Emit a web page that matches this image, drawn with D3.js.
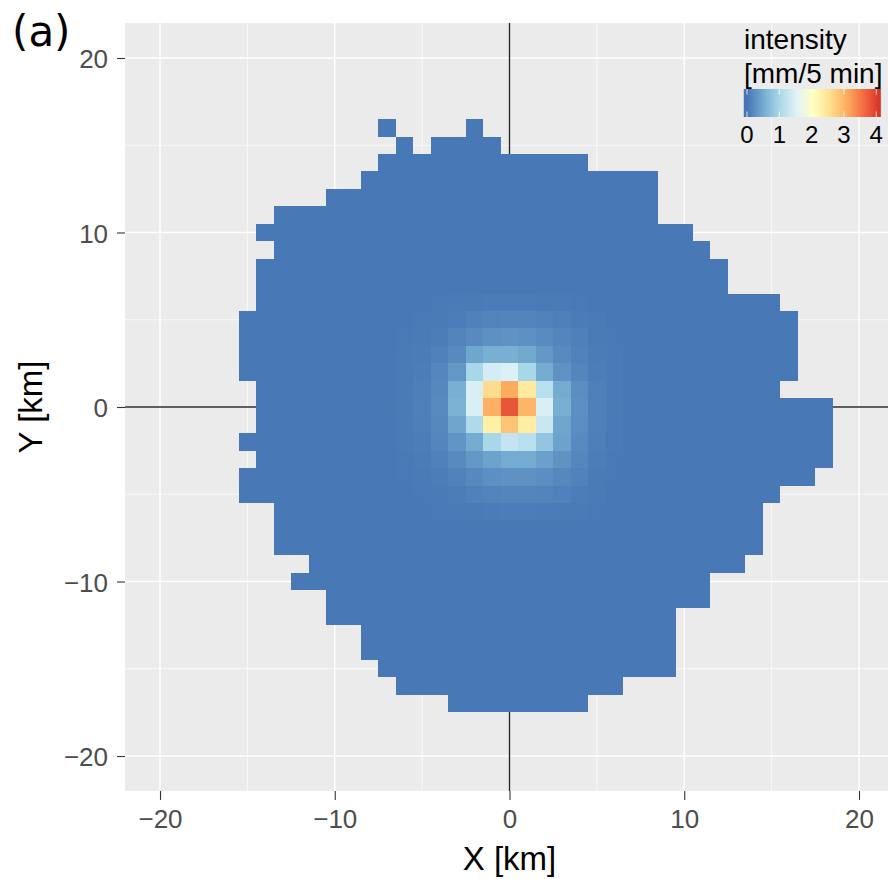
<!DOCTYPE html>
<html>
<head>
<meta charset="utf-8">
<script src="https://cdnjs.cloudflare.com/ajax/libs/d3/7.8.5/d3.min.js"></script>
<style>
    body { margin: 0; background: #fff; }
    text { font-family: "Liberation Sans", Arial, sans-serif; }
</style>
</head>
<body>
<svg id="grafico" width="888" height="879"></svg>
<script>
// filas del area con lluvia: [Y, X inicial, X final], celdas de 1 km
var filas = [
    [16, -7, -7], [16, -2, -2],
    [15, -6, -6], [15, -4, -1],
    [14, -7, 4],
    [13, -8, 8],
    [12, -10, 8],
    [11, -13, 8],
    [10, -14, 10],
    [9, -13, 11],
    [8, -14, 12],
    [7, -14, 12],
    [6, -14, 15],
    [5, -15, 16],
    [4, -15, 16],
    [3, -15, 16],
    [2, -15, 16],
    [1, -14, 15],
    [0, -14, 18],
    [-1, -14, 18],
    [-2, -15, 18],
    [-3, -14, 18],
    [-4, -15, 17],
    [-5, -15, 15],
    [-6, -13, 14],
    [-7, -13, 14],
    [-8, -13, 14],
    [-9, -11, 13],
    [-10, -12, 11],
    [-11, -10, 11],
    [-12, -10, 9],
    [-13, -8, 9],
    [-14, -8, 9],
    [-15, -7, 9],
    [-16, -6, 6],
    [-17, -3, 4]
];

// nucleo de la tormenta (intensidad leida celda a celda)
var nucleoX = [-6, -5, -4, -3, -2, -1, 0, 1, 2, 3, 4, 5, 6];
var nucleoY = [6, 5, 4, 3, 2, 1, 0, -1, -2, -3, -4, -5, -6];
var nucleo = [
    [0.03, 0.03, 0.04, 0.05, 0.06, 0.07, 0.07, 0.07, 0.06, 0.05, 0.04, 0.03, 0.03],
    [0.03, 0.04, 0.06, 0.08, 0.11, 0.13, 0.14, 0.14, 0.12, 0.10, 0.07, 0.05, 0.03],
    [0.04, 0.06, 0.08, 0.13, 0.20, 0.26, 0.28, 0.26, 0.21, 0.15, 0.10, 0.06, 0.04],
    [0.05, 0.07, 0.11, 0.20, 0.45, 0.55, 0.55, 0.48, 0.32, 0.20, 0.12, 0.07, 0.05],
    [0.05, 0.08, 0.16, 0.32, 1.00, 1.42, 1.50, 1.00, 0.50, 0.28, 0.15, 0.08, 0.05],
    [0.05, 0.09, 0.18, 0.55, 1.45, 2.60, 3.10, 2.40, 1.15, 0.50, 0.22, 0.10, 0.05],
    [0.06, 0.10, 0.20, 0.58, 1.45, 3.05, 3.80, 3.00, 1.45, 0.55, 0.24, 0.10, 0.06],
    [0.05, 0.09, 0.18, 0.45, 1.05, 2.30, 2.85, 2.35, 1.30, 0.45, 0.22, 0.10, 0.05],
    [0.05, 0.08, 0.15, 0.30, 0.50, 1.00, 1.25, 1.15, 0.80, 0.42, 0.20, 0.09, 0.05],
    [0.04, 0.07, 0.11, 0.20, 0.32, 0.42, 0.50, 0.50, 0.40, 0.28, 0.16, 0.08, 0.04],
    [0.04, 0.05, 0.08, 0.12, 0.19, 0.24, 0.27, 0.27, 0.23, 0.18, 0.12, 0.06, 0.04],
    [0.03, 0.04, 0.05, 0.08, 0.11, 0.13, 0.15, 0.15, 0.13, 0.11, 0.08, 0.05, 0.03],
    [0.03, 0.03, 0.04, 0.05, 0.06, 0.07, 0.08, 0.08, 0.07, 0.06, 0.05, 0.04, 0.03]
];
var intensidadBase = 0.03; // resto del area, azul casi uniforme

var ticksMayores = [-20, -10, 0, 10, 20];
var ticksMenores = [-15, -5, 5, 15];
var ticksLeyenda = [0, 1, 2, 3, 4];
var paleta = ["#4575b4", "#74add1", "#abd9e9", "#e0f3f8", "#ffffbf", "#fee090", "#fdae61", "#f46d43", "#d73027"];
var maxIntensidad = 4.1;

// armamos la lista de celdas
var celdas = [];
filas.forEach(function (f) {
    for (var x = f[1]; x <= f[2]; x++) {
        var i = nucleoX.indexOf(x), j = nucleoY.indexOf(f[0]);
        var v = (i >= 0 && j >= 0) ? nucleo[j][i] : intensidadBase;
        celdas.push({ x: x, y: f[0], v: v });
    }
});

var svg = d3.select("#grafico");

var escalaX = d3.scaleLinear().domain([-20, 20]).range([160, 859]);
var escalaY = d3.scaleLinear().domain([-20, 20]).range([756, 58]);
var panel = { x0: escalaX(-22), x1: escalaX(22), y0: escalaY(22), y1: escalaY(-22) };

var color = d3.scaleLinear()
    .domain(paleta.map(function (c, i) { return i * maxIntensidad / (paleta.length - 1); }))
    .range(paleta)
    .interpolate(d3.interpolateLab)
    .clamp(true);

// fondo gris del panel
svg.append("rect")
    .attr("x", panel.x0).attr("y", panel.y0)
    .attr("width", panel.x1 - panel.x0).attr("height", panel.y1 - panel.y0)
    .attr("fill", "#ebebeb");

// grilla menor y mayor
var grilla = svg.append("g");
[[ticksMenores, 0.7], [ticksMayores, 1.4]].forEach(function (g) {
    grilla.selectAll(null).data(g[0]).enter().append("line")
        .attr("x1", function (d) { return escalaX(d); }).attr("x2", function (d) { return escalaX(d); })
        .attr("y1", panel.y0).attr("y2", panel.y1)
        .attr("stroke", "#fff").attr("stroke-width", g[1]);
    grilla.selectAll(null).data(g[0]).enter().append("line")
        .attr("y1", function (d) { return escalaY(d); }).attr("y2", function (d) { return escalaY(d); })
        .attr("x1", panel.x0).attr("x2", panel.x1)
        .attr("stroke", "#fff").attr("stroke-width", g[1]);
});

// lineas negras en X=0 y Y=0 (quedan debajo de las celdas)
svg.append("line")
    .attr("x1", escalaX(0)).attr("x2", escalaX(0))
    .attr("y1", panel.y0).attr("y2", panel.y1)
    .attr("stroke", "#2b2b2b").attr("stroke-width", 1.4);
svg.append("line")
    .attr("x1", panel.x0).attr("x2", panel.x1)
    .attr("y1", escalaY(0)).attr("y2", escalaY(0))
    .attr("stroke", "#2b2b2b").attr("stroke-width", 1.4);

// celdas
svg.append("g").selectAll("rect")
    .data(celdas)
    .enter()
    .append("rect")
    .attr("x", function (d) { return escalaX(d.x - 0.5); })
    .attr("y", function (d) { return escalaY(d.y + 0.5); })
    .attr("width", function (d) { return escalaX(d.x + 0.5) - escalaX(d.x - 0.5); })
    .attr("height", function (d) { return escalaY(d.y - 0.5) - escalaY(d.y + 0.5); })
    .attr("fill", function (d) { return color(d.v); })
    .attr("shape-rendering", "crispEdges");

// ejes
var ejeX = d3.axisBottom(escalaX).tickValues(ticksMayores).tickSize(9).tickSizeOuter(0);
var ejeY = d3.axisLeft(escalaY).tickValues(ticksMayores).tickSize(8).tickSizeOuter(0);

var gX = svg.append("g").attr("transform", "translate(0," + panel.y1 + ")").call(ejeX);
var gY = svg.append("g").attr("transform", "translate(" + panel.x0 + ",0)").call(ejeY);
[gX, gY].forEach(function (g) {
    g.select(".domain").remove();
    g.selectAll(".tick line").attr("stroke", "#333").attr("stroke-width", 1.1);
    g.selectAll(".tick text")
        .attr("fill", "#4d4d4d")
        .style("font-family", "Liberation Sans, Arial, sans-serif")
        .style("font-size", "26px");
});
gX.selectAll(".tick text").attr("y", 19).attr("dy", "0.71em");
gY.selectAll(".tick text").attr("x", -17).attr("dy", "0.38em");

// titulos de los ejes
svg.append("text")
    .attr("x", (panel.x0 + panel.x1) / 2).attr("y", 870)
    .attr("text-anchor", "middle")
    .style("font-size", "33px")
    .text("X [km]");
svg.append("text")
    .attr("transform", "translate(42," + ((panel.y0 + panel.y1) / 2) + ") rotate(-90)")
    .attr("text-anchor", "middle")
    .style("font-size", "33px")
    .text("Y [km]");

// etiqueta del panel
svg.append("text")
    .attr("x", 12).attr("y", 46)
    .style("font-family", "DejaVu Sans, sans-serif")
    .style("font-size", "42px")
    .text("(a)");

// leyenda
var escalaLeyenda = d3.scaleLinear().domain([0, 4]).range([747, 876.3]);
var barra = { v0: -0.1, v1: 4.14, y: 89, h: 28 };

var grad = svg.append("defs").append("linearGradient").attr("id", "degradado");
grad.selectAll("stop")
    .data(d3.range(0, 41))
    .enter().append("stop")
    .attr("offset", function (d) { return (d / 40 * 100) + "%"; })
    .attr("stop-color", function (d) { return color(barra.v0 + (barra.v1 - barra.v0) * d / 40); });

svg.append("rect")
    .attr("x", escalaLeyenda(barra.v0)).attr("y", barra.y)
    .attr("width", escalaLeyenda(barra.v1) - escalaLeyenda(barra.v0)).attr("height", barra.h)
    .attr("fill", "url(#degradado)");

var marcas = svg.append("g");
ticksLeyenda.forEach(function (t) {
    marcas.append("line")
        .attr("x1", escalaLeyenda(t)).attr("x2", escalaLeyenda(t))
        .attr("y1", barra.y).attr("y2", barra.y + 5.5)
        .attr("stroke", "#fff").attr("stroke-width", 0.8);
    marcas.append("line")
        .attr("x1", escalaLeyenda(t)).attr("x2", escalaLeyenda(t))
        .attr("y1", barra.y + barra.h - 5.5).attr("y2", barra.y + barra.h)
        .attr("stroke", "#fff").attr("stroke-width", 0.8);
});

svg.append("g").selectAll("text")
    .data(ticksLeyenda)
    .enter().append("text")
    .attr("x", function (d) { return escalaLeyenda(d); })
    .attr("y", 143)
    .attr("text-anchor", "middle")
    .style("font-size", "24px")
    .text(function (d) { return d; });

svg.append("text").attr("x", 744).attr("y", 49).style("font-size", "28px").text("intensity");
svg.append("text").attr("x", 744).attr("y", 83).style("font-size", "28px").text("[mm/5 min]");
</script>
</body>
</html>
